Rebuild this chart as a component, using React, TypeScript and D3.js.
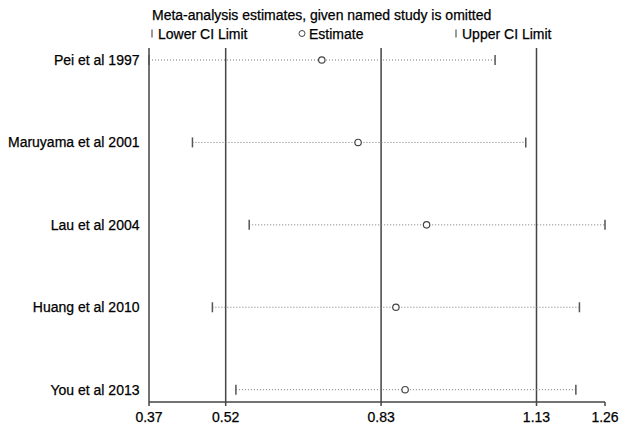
import React, { useEffect, useRef } from "react";
import * as d3 from "d3";

// studies (top to bottom) and their omitted-study estimates
const studies = [
  "Pei et al 1997",
  "Maruyama et al 2001",
  "Lau et al 2004",
  "Huang et al 2010",
  "You et al 2013",
];
const lowerCI = [0.372, 0.457, 0.568, 0.496, 0.542];
const estimate = [0.71, 0.781, 0.915, 0.855, 0.873];
const upperCI = [1.049, 1.109, 1.264, 1.214, 1.207];

// x-axis ticks: min, pooled lower, pooled estimate, pooled upper, max
const tickValues = [0.372, 0.522, 0.826, 1.13, 1.264];
const tickLabels = ["0.37", "0.52", "0.83", "1.13", "1.26"];
const refLines = [0.522, 0.826, 1.13];

const W = 622;
const H = 428;
const FONT = "Liberation Sans, Arial, sans-serif";

const App = () => {
  const ref = useRef<SVGSVGElement>(null);

  useEffect(() => {
    const svg = d3.select(ref.current);
    svg.selectAll("*").remove();

    const x = d3.scaleLinear().domain([0.372, 1.264]).range([149, 605]);
    const y = d3.scalePoint<string>().domain(studies).range([60, 389.7]);
    const top = 48;
    const axisY = 402;

    const rows = studies.map((s, i) => ({
      name: s,
      lo: lowerCI[i],
      est: estimate[i],
      hi: upperCI[i],
    }));

    const txt = (sel: any) =>
      sel
        .attr("font-size", 14)
        .attr("font-family", FONT)
        .attr("fill", "#000")
        .attr("stroke", "#000")
        .attr("stroke-width", 0.25);

    // title + legend
    svg.append("text").attr("x", 152).attr("y", 20).call(txt)
      .text("Meta-analysis estimates, given named study is omitted");

    const legY = 33.5;
    svg.append("line").attr("x1", 152).attr("x2", 152).attr("y1", legY - 4).attr("y2", legY + 4)
      .attr("stroke", "#555").attr("stroke-width", 1.2);
    svg.append("text").attr("x", 158).attr("y", legY + 5).call(txt).text("Lower CI Limit");
    svg.append("circle").attr("cx", 302).attr("cy", legY).attr("r", 3)
      .attr("fill", "#fff").attr("stroke", "#444").attr("stroke-width", 1);
    svg.append("text").attr("x", 309).attr("y", legY + 5).call(txt).text("Estimate");
    svg.append("line").attr("x1", 456).attr("x2", 456).attr("y1", legY - 4).attr("y2", legY + 4)
      .attr("stroke", "#555").attr("stroke-width", 1.2);
    svg.append("text").attr("x", 462).attr("y", legY + 5).call(txt).text("Upper CI Limit");

    // left axis line
    svg.append("line")
      .attr("x1", x(tickValues[0])).attr("x2", x(tickValues[0]))
      .attr("y1", top).attr("y2", axisY)
      .attr("stroke", "#444").attr("stroke-width", 1.5);

    // reference lines (pooled estimate and CI)
    svg.selectAll(".ref")
      .data(refLines)
      .enter()
      .append("line")
      .attr("x1", (d) => x(d)).attr("x2", (d) => x(d))
      .attr("y1", top).attr("y2", axisY)
      .attr("stroke", "#444").attr("stroke-width", 1.5);

    // x axis
    svg.append("line")
      .attr("x1", x.range()[0]).attr("x2", x.range()[1])
      .attr("y1", axisY).attr("y2", axisY)
      .attr("stroke", "#444").attr("stroke-width", 1.5);
    const ticks = svg.selectAll(".tick").data(tickValues).enter().append("g");
    ticks.append("line")
      .attr("x1", (d) => x(d)).attr("x2", (d) => x(d))
      .attr("y1", axisY).attr("y2", axisY + 4)
      .attr("stroke", "#444").attr("stroke-width", 1.5);
    ticks.append("text")
      .attr("x", (d) => x(d))
      .attr("y", axisY + 20)
      .attr("text-anchor", "middle")
      .call(txt)
      .text((d, i) => tickLabels[i]);

    // study labels
    svg.selectAll(".lab")
      .data(rows)
      .enter()
      .append("text")
      .attr("x", 139.5)
      .attr("y", (d) => (y(d.name) as number) + 5)
      .attr("text-anchor", "end")
      .call(txt)
      .text((d) => d.name);

    const g = svg.selectAll(".row").data(rows).enter().append("g");
    g.append("line")
      .attr("x1", (d) => x(d.lo)).attr("x2", (d) => x(d.hi))
      .attr("y1", (d) => y(d.name) as number).attr("y2", (d) => y(d.name) as number)
      .attr("stroke", "#777").attr("stroke-width", 1).attr("stroke-dasharray", "1,2");
    g.append("line")
      .attr("x1", (d) => x(d.lo)).attr("x2", (d) => x(d.lo))
      .attr("y1", (d) => (y(d.name) as number) - 5).attr("y2", (d) => (y(d.name) as number) + 5)
      .attr("stroke", "#555").attr("stroke-width", 1.5);
    g.append("line")
      .attr("x1", (d) => x(d.hi)).attr("x2", (d) => x(d.hi))
      .attr("y1", (d) => (y(d.name) as number) - 5).attr("y2", (d) => (y(d.name) as number) + 5)
      .attr("stroke", "#555").attr("stroke-width", 1.5);
    g.append("circle")
      .attr("cx", (d) => x(d.est))
      .attr("cy", (d) => y(d.name) as number)
      .attr("r", 3.2)
      .attr("fill", "#fff")
      .attr("stroke", "#444")
      .attr("stroke-width", 1.2);
  }, []);

  return (
    <svg
      ref={ref}
      width={W}
      height={H}
      style={{ position: "absolute", left: 0, top: 0, background: "#fff" }}
    />
  );
};

export default App;
